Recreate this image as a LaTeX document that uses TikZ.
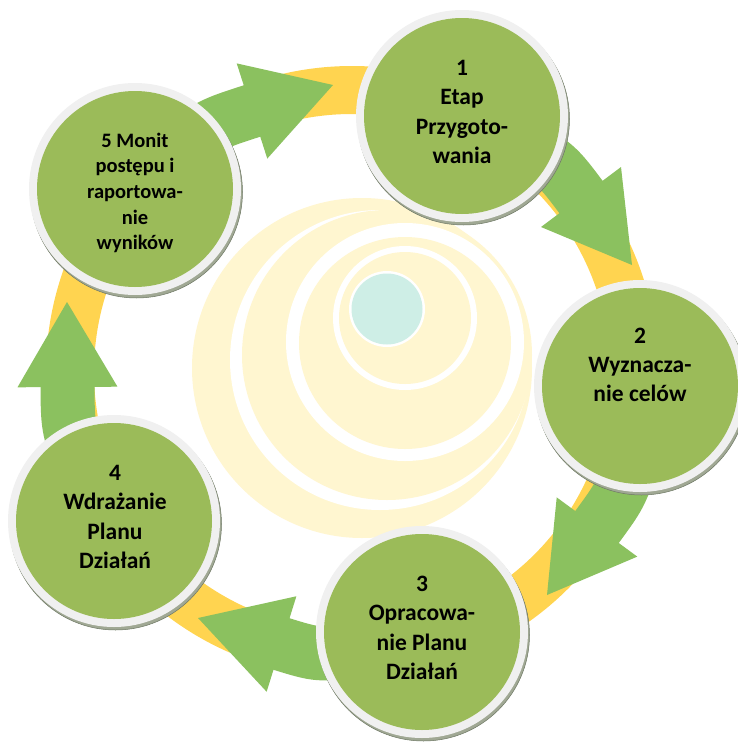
\documentclass[tikz,border=0pt]{standalone}
\usepackage{fontspec}
\setmainfont{Carlito}
\usetikzlibrary{calc}
\definecolor{ringY}{RGB}{255,212,80}
\definecolor{arrowG}{RGB}{139,193,95}
\definecolor{circG}{RGB}{155,187,89}
\definecolor{ringC}{RGB}{240,240,240}
\definecolor{shadowC}{RGB}{160,168,148}
\definecolor{shadowD}{RGB}{110,120,100}
\definecolor{paleY}{RGB}{255,246,208}
\definecolor{cyanC}{RGB}{206,238,230}
\tikzset{
  txt/.style={align=center, inner sep=0pt, text=black,
    font=\fontsize{23.5}{29.3}\selectfont\bfseries},
  txtsmall/.style={txt, font=\fontsize{20.5}{25.7}\selectfont\bfseries},
  shaft/.style={draw=arrowG, line width=54pt},
  stage/.style={circle, fill=circG, minimum size=196pt, inner sep=0pt}
}
\newcommand\blockarrow[4]{%
  \coordinate (#1t) at #2;
  \coordinate (#1b) at #3;
  \coordinate (#1e) at #4;
  \draw[shaft] ($(#1b)!5pt!(#1t)$) .. controls ($(#1b)!-40pt!(#1t)$) .. (#1e);
  \fill[arrowG] (#1t) -- ($(#1b)!50pt!90:(#1t)$) -- ($(#1b)!50pt!-90:(#1t)$) -- cycle;
}
\newcommand\stagecircle[2]{%
  \filldraw[fill=shadowC, draw=shadowD, line width=0.5pt] ($#2+(1.5,3)$) circle[radius=106pt];
  \fill[ringC] #2 circle[radius=106pt];
  \node[stage] (#1) at #2 {};
}
\begin{document}
\begin{tikzpicture}[x=1pt,y=-1pt]
\useasboundingbox (0,0) rectangle (738,745);
\clip (0,0) rectangle (738,745);
\fill[white] (0,0) rectangle (738,745);
% central spiral decoration
\fill[paleY] (362,368) circle[radius=170pt];
\fill[white] (380,360) circle[radius=150pt];
\fill[paleY] (387,355) circle[radius=145pt];
\fill[white] (405,342) circle[radius=119pt];
\fill[paleY] (405,343) circle[radius=106pt];
\fill[white] (405,318) circle[radius=72pt];
\fill[paleY] (405,318) circle[radius=66pt];
\fill[white] (387,309) circle[radius=38pt];
\node[circle, fill=cyanC, minimum size=71pt, inner sep=0pt] (core) at (387,309) {};
% yellow ring
\draw[ringY, line width=48pt] (352,372) circle[radius=282pt];
% arrows
\blockarrow{aa}{(333,85)}{(252,111)}{(180,145)}
\blockarrow{ab}{(632,265)}{(581,197)}{(521,144)}
\blockarrow{ac}{(547,595)}{(597,527)}{(633,456)}
\blockarrow{ad}{(198,618)}{(281.5,644)}{(361,648)}
\blockarrow{ae}{(67,302)}{(67.5,387)}{(81.5,466)}
% stage circles
\stagecircle{c1}{(462,116)}
\stagecircle{c2}{(640,386)}
\stagecircle{c3}{(422,632)}
\stagecircle{c4}{(114,521)}
\stagecircle{c5}{(135,189)}
% texts
\node[txt] (t1) at (462,112) {1\\Etap\\Przygoto-\\wania};
\node[txt] (t2) at (640,365) {2\\Wyznacza-\\nie celów};
\node[txt] (t3) at (422,628) {3\\Opracowa-\\nie Planu\\Działań};
\node[txt] (t4) at (115,517) {4\\Wdrażanie\\Planu\\Działań};
\node[txtsmall] (t5) at (135,193) {5 Monit\\postępu i\\raportowa-\\nie\\wyników};
\end{tikzpicture}
\end{document}
